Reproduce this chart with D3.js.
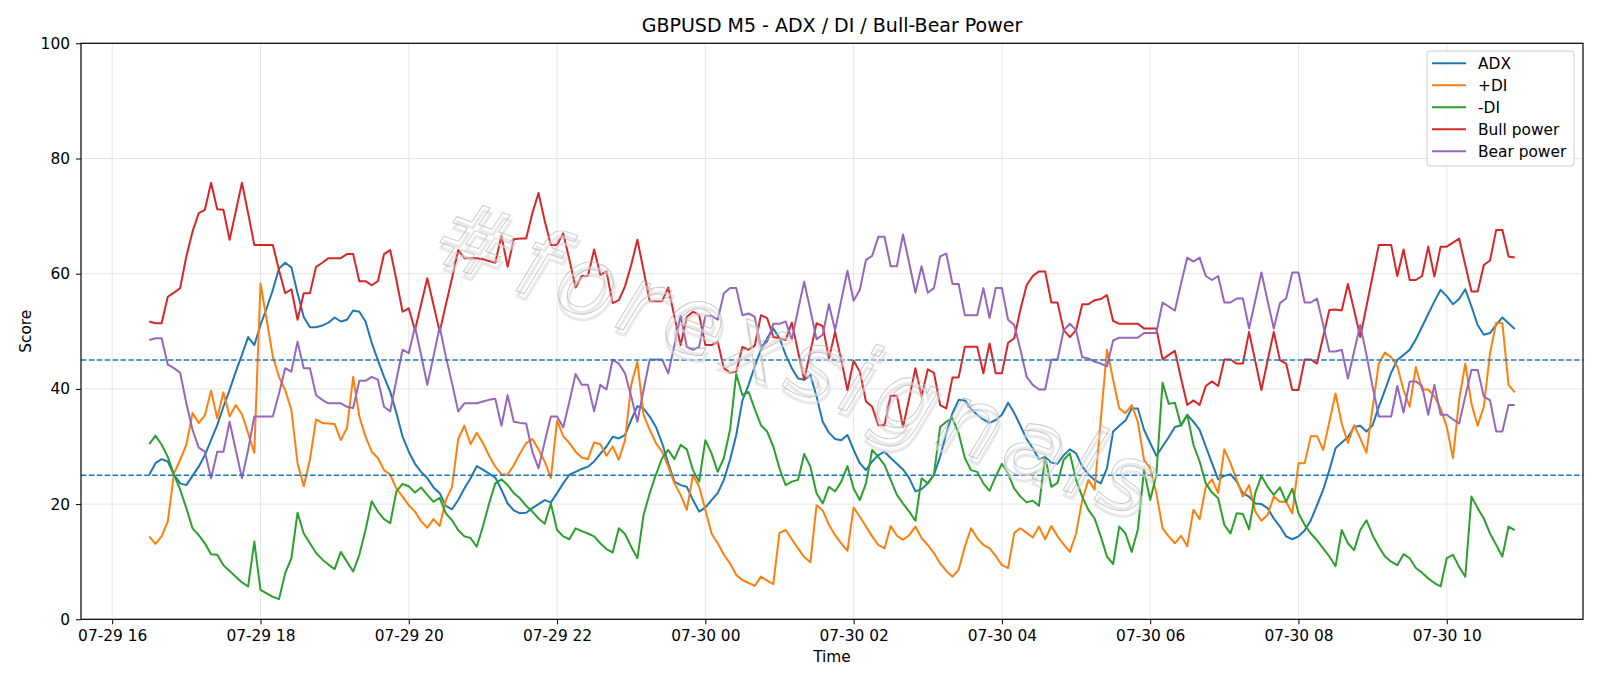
<!DOCTYPE html>
<html>
<head>
<meta charset="utf-8">
<title>GBPUSD M5 - ADX / DI / Bull-Bear Power</title>
<script src="https://cdn.jsdelivr.net/npm/d3@7/dist/d3.min.js"></script>
<style>
  body { margin: 0; background: #fff; }
  svg { display: block; font-family: "DejaVu Sans", sans-serif; }
  .axis text { font-size: 15.4px; fill: #000; font-family: "DejaVu Sans", sans-serif; }
  .axis line { stroke: #000; stroke-width: 1; }
  .grid line { stroke: #e6e6e6; stroke-width: 1; }
</style>
</head>
<body>
<script>
// First candle and bar size (M5)
var startTime = new Date(2025, 6, 29, 16, 30);
var stepMinutes = 5;

// Series values, one per 5 minute bar
var adx = [25.1,27.1,27.8,27.4,25.1,23.6,23.3,24.9,26.5,28.5,31.1,33.7,36.9,39.8,43.0,45.9,49.0,47.6,51.1,54.0,57.2,60.9,61.9,61.1,56.6,52.5,50.7,50.7,51.0,51.5,52.4,51.7,
  52.0,53.6,53.4,51.7,48.0,45.0,42.1,39.5,35.8,31.7,29.1,27.0,25.6,24.5,22.9,21.9,19.7,19.1,20.7,22.7,24.5,26.6,26.0,25.3,24.6,22.5,20.1,18.9,18.4,18.5,19.3,20.0,20.7,
  20.3,21.9,23.6,25.1,25.6,26.1,26.5,27.4,28.7,30.0,31.7,31.4,32.0,34.6,37.0,36.6,35.2,33.4,30.6,27.1,23.9,23.3,23.0,20.7,18.7,19.4,20.7,21.9,24.2,27.7,32.0,38.0,
  40.7,43.9,46.8,48.8,50.5,48.8,45.9,43.6,41.8,41.6,42.4,38.7,34.3,32.4,31.3,31.1,32.0,29.4,27.1,25.9,27.4,28.5,29.1,28.0,27.0,26.0,24.5,22.2,22.6,23.6,25.1,28.2,
  32.3,35.8,38.1,38.0,36.5,35.5,34.7,34.1,34.6,35.5,37.6,35.8,33.6,31.3,29.7,27.8,28.2,27.2,27.0,28.5,29.5,28.8,26.5,25.2,24.2,23.6,26.2,32.6,33.6,34.5,36.6,36.6,32.9,
  30.6,28.4,30.0,31.6,33.4,33.7,35.5,34.3,32.9,30.0,27.1,24.3,24.9,25.2,23.9,21.9,21.3,20.1,20.0,19.3,17.5,16.1,14.4,13.9,14.4,15.4,17.2,19.8,22.5,25.9,29.7,30.7,
  31.6,33.4,33.6,32.6,33.7,36.9,39.8,42.8,45.0,45.9,46.8,48.6,50.8,53.0,55.2,57.2,56.1,54.7,55.6,57.3,54.3,51.1,49.4,49.7,51.1,52.4,51.4,50.4];

var plusDI = [14.4,13.1,14.4,17.0,25.3,27.7,30.3,35.8,34.1,35.4,39.7,34.9,39.4,35.2,37.2,35.6,32.3,28.9,58.3,52.0,45.6,42.1,39.8,36.3,27.1,23.1,27.7,34.7,34.1,34.0,33.9,31.1,
  33.2,42.1,35.2,31.7,29.1,28.0,25.9,25.1,22.7,21.3,19.8,18.7,17.0,15.9,17.4,16.2,20.7,23.0,31.3,33.6,30.4,32.4,30.6,28.4,26.5,25.2,25.1,26.8,28.8,30.6,31.3,29.5,27.4,
  24.5,34.5,31.8,30.6,29.1,28.1,27.8,30.7,30.4,28.4,30.0,27.7,31.1,40.7,44.7,35.5,32.9,30.6,29.1,26.5,23.6,21.6,19.0,25.1,23.0,19.0,14.9,13.2,11.2,9.7,7.7,6.8,
  6.3,5.8,7.4,6.7,6.1,15.0,15.5,13.9,12.3,10.8,9.9,19.8,18.9,16.4,14.6,13.2,11.9,19.4,17.8,16.1,14.4,12.9,12.3,16.2,14.5,13.8,14.6,16.1,14.1,12.9,11.5,9.7,
  8.4,7.4,8.6,12.6,15.8,14.1,12.9,12.3,11.0,9.4,8.9,15.0,15.8,15.0,14.2,16.1,13.9,16.2,14.4,13.0,11.7,14.9,20.7,24.2,22.5,34.6,46.8,41.6,36.6,35.8,37.2,34.3,27.7,
  26.2,21.9,15.8,14.4,13.2,14.5,12.7,19.0,17.4,23.0,24.3,21.9,29.5,27.1,24.2,21.3,23.3,18.7,17.1,18.1,21.3,20.4,20.4,18.4,27.1,27.1,31.8,31.8,29.4,34.3,39.2,34.0,
  30.6,33.7,31.4,28.9,36.8,44.4,46.3,45.5,43.9,39.8,36.9,43.8,39.9,39.9,38.7,36.6,33.4,28.0,38.1,44.4,37.4,33.6,36.9,46.2,51.5,51.4,40.7,39.4];

var minusDI = [30.4,31.9,30.3,28.2,25.1,22.5,19.3,15.8,14.6,13.2,11.3,11.2,9.4,8.4,7.4,6.4,5.7,13.5,5.1,4.5,3.9,3.5,8.0,10.6,18.5,14.9,13.2,11.5,10.4,9.5,8.7,11.7,
  10.0,8.3,11.2,15.5,20.5,18.7,17.4,16.7,22.2,23.5,23.1,22.0,22.9,21.6,20.4,21.1,18.4,17.2,15.5,14.4,14.1,12.6,16.1,20.1,23.6,24.3,23.3,21.9,21.0,19.7,18.7,17.5,16.6,
  20.1,15.5,14.4,13.9,15.8,15.3,14.9,14.4,13.2,12.2,11.6,15.8,14.8,12.6,10.6,18.1,21.9,25.1,28.0,29.4,27.8,30.3,29.5,25.9,23.9,31.1,28.8,25.6,28.0,32.9,42.6,38.9,
  39.5,36.5,33.7,32.6,30.0,26.2,23.3,23.9,24.2,28.7,26.5,21.9,20.1,23.0,22.2,23.9,26.6,22.7,20.7,23.6,29.4,28.2,26.8,24.2,21.6,20.1,18.7,17.1,24.5,23.6,25.1,33.4,
  34.3,34.9,32.3,28.0,25.9,25.6,23.6,22.3,24.8,27.0,25.3,22.7,21.3,20.3,20.6,19.7,28.2,23.0,23.7,27.7,28.8,24.2,21.3,19.0,17.5,14.4,10.9,9.6,16.1,14.9,11.7,15.6,25.9,
  20.7,25.1,41.1,37.4,37.6,33.6,35.5,30.3,27.4,23.6,22.0,21.0,16.4,14.9,18.4,18.3,15.6,21.9,24.9,23.0,21.6,22.9,20.4,22.7,18.4,16.4,14.9,13.7,12.3,10.9,9.2,15.5,
  13.2,12.0,15.5,17.2,14.6,12.6,10.9,10.0,9.4,11.3,10.6,8.9,8.1,7.1,6.3,5.7,10.6,11.2,9.1,7.4,21.3,19.3,17.5,14.9,12.9,10.9,16.1,15.5];

var bullPower = [51.7,51.4,51.4,56.0,56.7,57.5,63.0,67.3,70.5,71.1,75.8,71.2,71.1,65.9,70.8,75.8,70.5,65.0,65.0,65.0,65.0,60.6,56.6,57.3,52.0,56.6,56.6,61.2,61.9,62.7,62.7,62.7,
  63.4,63.4,58.7,58.7,58.0,58.7,63.4,64.1,58.9,53.4,54.0,50.2,54.7,59.2,54.6,49.9,54.6,59.2,64.1,62.7,62.7,62.7,62.5,62.2,61.9,66.6,61.2,66.0,66.1,66.1,70.5,74.0,69.2,
  65.0,65.0,67.0,62.4,57.6,59.6,59.6,64.2,59.8,60.4,54.9,55.4,57.8,61.5,65.9,60.6,55.2,55.2,55.2,57.6,52.5,47.6,52.5,53.4,52.8,47.6,47.6,48.2,43.6,42.8,43.0,47.3,
  46.8,47.5,52.8,52.3,49.0,48.8,48.5,51.5,46.5,41.6,46.5,51.4,50.9,45.3,49.9,45.0,39.8,44.9,43.0,37.8,36.9,33.7,33.7,38.8,38.8,33.4,38.4,43.6,38.7,43.4,42.8,37.2,
  36.6,42.0,42.0,47.3,47.3,47.3,42.7,47.9,42.7,42.7,48.0,48.8,53.8,58.0,59.6,60.4,60.4,55.0,55.0,50.2,49.0,50.2,54.7,54.7,55.4,55.6,56.3,51.8,51.3,51.3,51.3,51.3,50.5,
  50.5,50.5,45.1,45.9,46.6,41.8,37.2,38.0,37.2,40.5,41.3,40.5,45.1,45.1,44.4,44.4,49.9,44.9,39.8,44.9,49.9,45.0,44.4,39.8,39.8,45.1,45.1,44.4,49.1,53.7,53.8,53.6,
  58.2,53.7,49.0,54.3,59.6,65.0,65.0,65.0,59.6,64.2,58.9,58.9,59.6,64.7,59.5,64.7,64.7,65.4,66.1,61.5,56.9,56.9,61.5,62.3,67.6,67.6,63.0,62.8];

var bearPower = [48.5,48.8,48.8,44.2,43.6,42.8,37.5,32.9,29.8,29.1,24.5,29.1,29.1,34.3,29.4,24.5,29.4,35.2,35.2,35.2,35.2,39.2,43.6,43.0,48.2,43.6,43.6,38.9,38.1,37.5,37.5,37.5,
  36.9,36.7,41.4,41.4,42.1,41.6,36.9,36.1,41.6,46.8,46.2,50.8,45.9,40.7,45.6,50.8,45.6,41.0,36.1,37.5,37.5,37.5,37.8,38.1,38.3,33.6,38.9,34.3,34.1,34.0,29.1,26.2,30.8,
  35.2,35.2,33.3,37.8,42.6,40.7,40.7,36.1,40.7,39.9,45.1,44.4,42.7,38.7,34.3,39.8,45.1,45.1,45.1,42.7,47.6,52.7,47.3,46.8,47.3,52.7,52.7,52.0,56.6,57.5,57.5,52.8,
  53.1,52.5,47.3,48.2,51.3,51.3,51.7,48.6,53.7,58.6,53.7,48.6,49.4,54.7,50.2,55.4,60.5,55.3,57.2,62.4,63.1,66.4,66.4,61.3,61.3,66.8,61.8,56.7,61.3,56.7,57.5,63.0,
  63.5,58.2,58.2,52.8,52.8,52.8,57.5,52.3,57.5,57.5,52.0,51.1,46.8,42.1,40.7,39.9,39.9,45.1,45.1,50.2,51.3,50.2,45.5,45.3,44.7,44.4,43.9,48.4,48.9,48.9,48.9,48.9,49.7,
  49.7,49.7,55.0,54.3,53.6,58.3,62.8,62.1,62.8,59.6,58.9,59.6,55.0,55.0,55.7,55.7,50.5,55.3,60.2,55.3,50.5,54.9,55.7,60.2,60.2,55.0,55.0,55.7,51.1,46.5,46.5,46.8,
  41.8,46.5,51.1,45.9,40.4,35.2,35.2,35.2,40.5,35.9,41.3,41.3,40.5,35.5,40.7,35.5,35.5,34.7,34.0,38.7,43.3,43.3,38.7,38.0,32.6,32.6,37.2,37.2];

// Names, colours and threshold lines
var seriesNames = ["ADX", "+DI", "-DI", "Bull power", "Bear power"];
var seriesColors = ["#1f77b4", "#ff7f0e", "#2ca02c", "#d62728", "#9467bd"];
var thresholds = [25, 45];
var yTicks = [0, 20, 40, 60, 80, 100];

// Time of every bar
var times = adx.map(function(d, i) {
  return d3.timeMinute.offset(startTime, i * stepMinutes);
});
var allSeries = [adx, plusDI, minusDI, bullPower, bearPower];

// Size of the figure
var margin = {top: 43.3, right: 17, bottom: 66.7, left: 81};
var svgWidth = 1600 - margin.left - margin.right;
var svgHeight = 686 - margin.top - margin.bottom;

// Scaling, with 5% padding on the time axis like matplotlib
var t0 = times[0], t1 = times[times.length - 1];
var pad = (t1 - t0) * 0.05;
var xScale = d3.scaleTime()
  .domain([new Date(+t0 - pad), new Date(+t1 + pad)])
  .range([0, svgWidth]);
var yScale = d3.scaleLinear()
  .domain([0, 100])
  .range([svgHeight, 0]);

var root = d3.select("body").append("svg")
  .attr("width", 1600)
  .attr("height", 686);
var svg = root.append("g")
  .attr("transform", "translate(" + margin.left + "," + margin.top + ")");

// Grid
var xTicks = xScale.ticks(d3.timeHour.every(2));
svg.append("g").attr("class", "grid")
  .selectAll("line").data(xTicks).enter().append("line")
  .attr("x1", function(d) { return xScale(d); })
  .attr("x2", function(d) { return xScale(d); })
  .attr("y1", 0).attr("y2", svgHeight);
svg.append("g").attr("class", "grid")
  .selectAll("line").data(yTicks).enter().append("line")
  .attr("x1", 0).attr("x2", svgWidth)
  .attr("y1", function(d) { return yScale(d); })
  .attr("y2", function(d) { return yScale(d); });

// Lines
var line = d3.line()
  .x(function(d, i) { return xScale(times[i]); })
  .y(function(d) { return yScale(d); });
svg.selectAll(".series")
  .data(allSeries).enter().append("path")
  .attr("class", "series")
  .attr("d", line)
  .attr("fill", "none")
  .attr("stroke", function(d, i) { return seriesColors[i]; })
  .attr("stroke-width", 2)
  .attr("stroke-linejoin", "round");

// Threshold lines
svg.selectAll(".thr")
  .data(thresholds).enter().append("line")
  .attr("class", "thr")
  .attr("x1", 0).attr("x2", svgWidth)
  .attr("y1", function(d) { return yScale(d); })
  .attr("y2", function(d) { return yScale(d); })
  .attr("stroke", "#1f77b4")
  .attr("stroke-width", 1.5)
  .attr("stroke-dasharray", "5.5,2.4");

// Watermark (light, thin, with soft shadow)
var wm = svg.append("g")
  .attr("transform", "translate(706,346) rotate(20)")
  .style("font-family", "DejaVu Sans")
  .style("font-style", "italic")
  .style("font-size", "96px")
  .style("letter-spacing", "8px")
  .attr("text-anchor", "middle");
wm.append("text").attr("x", 3).attr("y", 5).text("#forexsignals")
  .attr("fill", "none").attr("stroke", "#dadada").attr("stroke-width", 3)
  .attr("opacity", 0.6);
wm.append("text").text("#forexsignals")
  .attr("fill", "none").attr("stroke", "#b4b4b4").attr("stroke-width", 0.9)
  .attr("opacity", 0.75);

// Axes
var xAxis = d3.axisBottom(xScale)
  .ticks(d3.timeHour.every(2))
  .tickFormat(d3.timeFormat("%m-%d %H"))
  .tickSize(5).tickSizeOuter(0).tickPadding(6);
var yAxis = d3.axisLeft(yScale)
  .tickValues(yTicks)
  .tickSize(5).tickSizeOuter(0).tickPadding(6);
svg.append("g").attr("class", "axis")
  .attr("transform", "translate(0," + svgHeight + ")")
  .call(xAxis);
svg.append("g").attr("class", "axis")
  .call(yAxis);
svg.selectAll(".axis .domain").remove();

// Frame
svg.append("rect")
  .attr("width", svgWidth).attr("height", svgHeight)
  .attr("fill", "none").attr("stroke", "#000").attr("stroke-width", 1.2);

// Titles
root.append("text")
  .attr("x", margin.left + svgWidth / 2).attr("y", 32)
  .attr("text-anchor", "middle")
  .style("font-size", "19px")
  .text("GBPUSD M5 - ADX / DI / Bull-Bear Power");
root.append("text")
  .attr("x", margin.left + svgWidth / 2).attr("y", 662)
  .attr("text-anchor", "middle")
  .style("font-size", "15.4px")
  .text("Time");
root.append("text")
  .attr("transform", "translate(31," + (margin.top + svgHeight / 2) + ") rotate(-90)")
  .attr("text-anchor", "middle")
  .style("font-size", "15.4px")
  .text("Score");

// Legend
var legend = root.append("g").attr("transform", "translate(1427,51)");
legend.append("rect")
  .attr("width", 147).attr("height", 115).attr("rx", 3)
  .attr("fill", "#fff").attr("fill-opacity", 0.8)
  .attr("stroke", "#cccccc");
var items = legend.selectAll(".item")
  .data(seriesNames).enter().append("g")
  .attr("transform", function(d, i) { return "translate(0," + (12.3 + i * 22) + ")"; });
items.append("line")
  .attr("x1", 5).attr("x2", 39)
  .attr("stroke", function(d, i) { return seriesColors[i]; })
  .attr("stroke-width", 2);
items.append("text")
  .attr("x", 51).attr("dy", "0.35em")
  .style("font-size", "15.4px")
  .text(function(d) { return d; });
</script>
</body>
</html>
